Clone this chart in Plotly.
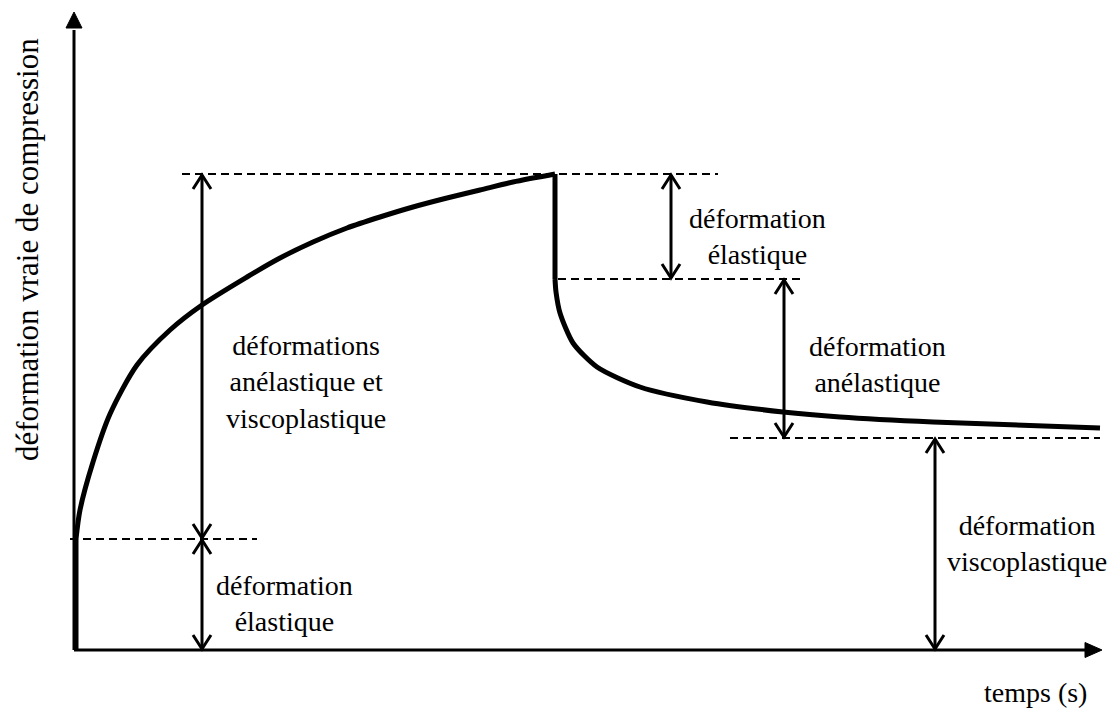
import plotly.graph_objects as go

# ---- data (arbitrary units: time t, strain eps) ----
load_t = [0, 4, 17, 34, 61, 94, 126, 171, 204, 237, 271, 304, 337, 371, 404, 437, 479]
load_eps = [111, 140, 188, 236, 285, 320, 345, 373, 392, 408, 422, 433, 443, 452, 460, 468, 476]
unload_t = [479, 480, 484, 497, 521, 564, 631, 707, 764, 857, 1024]
unload_eps = [371, 358, 337, 307, 283, 263, 248, 238, 233, 228, 222]

eps_elastic = 111      # instantaneous elastic strain on loading
eps_peak = 476         # strain at unloading
eps_after = 371        # strain after elastic recovery
eps_residual = 212     # permanent (viscoplastic) strain

# dashed reference levels: (level, t_start, t_end)
dash_levels = [(eps_peak, 106, 642), (eps_elastic, -6, 181),
               (eps_after, 482, 726), (eps_residual, 654, 1024)]
# double arrows: (t, eps_low, eps_high)
dbl_arrows = [(126, eps_elastic, eps_peak), (126, 0, eps_elastic),
              (595, eps_after, eps_peak), (708, eps_residual, eps_after),
              (859, 0, eps_residual)]
# labels: (t, eps, text)
labels = [(230, 268, "déformations<br>anélastique et<br>viscoplastique"),
          (208, 47, "déformation<br>élastique"),
          (681, 414, "déformation<br>élastique"),
          (801, 286, "déformation<br>anélastique"),
          (951, 107, "déformation<br>viscoplastique")]
x_label = "temps (s)"
y_label = "déformation vraie de compression"

FONT = "Liberation Serif, Times New Roman, serif"
fig = go.Figure()

# curve
fig.add_trace(go.Scatter(x=[0, 0], y=[0, eps_elastic], mode="lines",
                         line=dict(color="black", width=5), hoverinfo="skip"))
fig.add_trace(go.Scatter(x=load_t, y=load_eps, mode="lines",
                         line=dict(color="black", width=5, shape="spline", smoothing=0.8),
                         hoverinfo="skip"))
fig.add_trace(go.Scatter(x=[load_t[-1], unload_t[0]], y=[load_eps[-1], unload_eps[0]],
                         mode="lines", line=dict(color="black", width=5), hoverinfo="skip"))
fig.add_trace(go.Scatter(x=unload_t, y=unload_eps, mode="lines",
                         line=dict(color="black", width=5, shape="spline", smoothing=0.7),
                         hoverinfo="skip"))

shapes = []
# axes
AX0 = -2
shapes.append(dict(type="line", x0=AX0, y0=0, x1=AX0, y1=620,
                   line=dict(color="black", width=3)))
shapes.append(dict(type="line", x0=AX0, y0=0, x1=1010, y1=0,
                   line=dict(color="black", width=3)))
shapes.append(dict(type="path", path=f"M {AX0-8},622 L {AX0},638 L {AX0+8},622 Z",
                   fillcolor="black", line=dict(color="black", width=1)))
shapes.append(dict(type="path", path="M 1009,-7.5 L 1026,0 L 1009,7.5 Z",
                   fillcolor="black", line=dict(color="black", width=1)))

# dashed levels
for lvl, a, b in dash_levels:
    shapes.append(dict(type="line", x0=a, y0=lvl, x1=b, y1=lvl,
                       line=dict(color="black", width=2, dash="8px,5px")))

# double arrows with open chevron heads
HW, HL = 9, 15
for t, lo, hi in dbl_arrows:
    shapes.append(dict(type="line", x0=t, y0=lo + 1, x1=t, y1=hi - 1,
                       line=dict(color="black", width=3)))
    shapes.append(dict(type="path",
                       path=f"M {t-HW},{hi-HL} L {t},{hi-1} L {t+HW},{hi-HL}",
                       line=dict(color="black", width=3)))
    shapes.append(dict(type="path",
                       path=f"M {t-HW},{lo+HL} L {t},{lo+1} L {t+HW},{lo+HL}",
                       line=dict(color="black", width=3)))

annotations = []
for t, e, txt in labels:
    annotations.append(dict(x=t, y=e, text=txt, showarrow=False,
                            font=dict(family=FONT, size=28, color="black"),
                            align="center", xanchor="center", yanchor="middle"))
annotations.append(dict(x=959, y=-42, text=x_label, showarrow=False,
                        font=dict(family=FONT, size=28, color="black"),
                        xanchor="center", yanchor="middle"))
annotations.append(dict(x=-49, y=400, text=y_label, showarrow=False, textangle=-90,
                        font=dict(family=FONT, size=31, color="black"),
                        xanchor="center", yanchor="middle"))

# the page places the figure 8px from the top-left corner; ranges compensate
fig.update_layout(
    width=1115, height=710,
    margin=dict(l=0, r=0, t=0, b=0),
    paper_bgcolor="white", plot_bgcolor="white",
    showlegend=False,
    xaxis=dict(range=[-68, 1047], visible=False, fixedrange=True),
    yaxis=dict(range=[-68, 642], visible=False, fixedrange=True),
    shapes=shapes, annotations=annotations,
)
fig.write_html("out.html")
